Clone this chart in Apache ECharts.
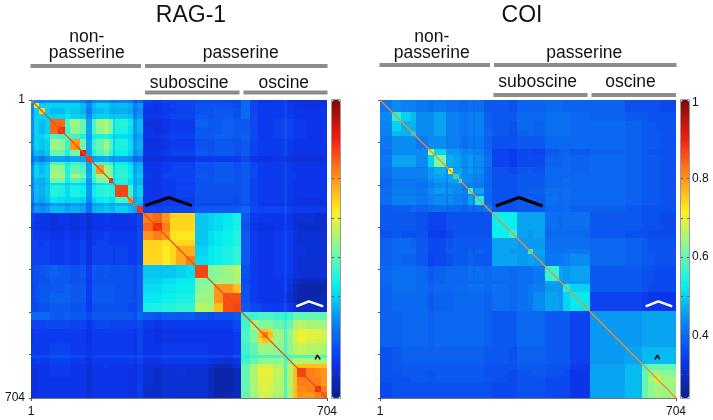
<!DOCTYPE html>
<html>
<head>
<meta charset="utf-8">
<style>html,body{margin:0;padding:0;background:#fff}#c{width:713px;height:420px}</style>
<script src="https://cdn.jsdelivr.net/npm/echarts@6/dist/echarts.min.js"></script>
</head>
<body>
<div id="c"></div>
<script>
// Segment edges (sequence index) of the blocks visible in each matrix
const ragEdges = [1,9,21,34,45,65,82,94,118,132,147,155,175,186,196,201,231,243,252,267,
  291,311,331,346,370,390,422,435,457,481,500,
  520,541,549,563,575,603,610,623,633,655,676,690,704];
const coiEdges = [1,29,51,75,86,116,130,158,162,175,188,196,209,222,227,248,266,
  308,327,352,365,392,427,435,453,499,
  583,624,638,654,666,704];

// Similarity x100 per block pair (lower triangle of the symmetric matrix)
const ragRows = [
[50],
[44,72],
[43,50,74],
[44,50,50,50],
[44,50,48,50,84],
[44,50,48,50,84,89],
[44,50,50,52,58,57,60],
[44,50,49,50,64,63,57,80],
[43,48,47,49,60,60,54,61,91],
[40,44,42,44,46,46,45,46,46,88],
[43,48,47,49,58,58,53,57,55,45,58],
[44,50,48,50,64,63,54,60,58,46,58,80],
[44,50,49,50,65,65,55,65,61,47,58,64,66],
[43,48,47,49,61,61,53,58,56,45,56,62,63,89],
[42,47,46,48,51,51,49,50,49,44,49,51,52,51,53],
[43,48,47,49,55,54,51,54,53,45,53,55,56,55,53,87],
[42,47,46,48,52,51,50,51,50,44,50,52,53,51,51,57,80],
[38,43,42,43,45,45,44,45,44,40,45,46,47,46,46,47,46,50],
[40,45,44,45,48,48,46,47,46,41,47,48,49,48,47,50,48,46,89],
[35,34,33,33,32,33,33,32,33,31,33,33,34,33,33,33,33,33,35,82],
[34,33,33,33,32,32,33,32,33,31,33,33,33,33,33,33,33,33,35,84,89],
[35,34,34,34,33,33,34,33,34,32,34,34,35,34,34,34,34,34,36,80,82,80],
[35,35,34,35,34,34,35,34,35,32,34,35,35,34,34,34,34,34,36,74,74,73,73],
[35,35,35,35,34,34,35,34,35,32,35,35,35,35,34,35,34,34,36,74,74,72,74,78],
[35,35,35,35,34,34,35,34,35,32,35,35,35,35,34,35,34,34,36,74,74,72,74,78,82],
[36,37,37,38,39,38,38,37,38,34,38,37,38,37,37,37,37,36,38,49,49,49,49,50,51,87],
[36,37,37,37,38,38,38,37,37,34,37,37,37,37,37,37,37,36,38,50,50,51,51,52,52,62,62],
[36,37,38,38,38,38,39,38,38,34,38,38,38,38,37,37,37,36,38,51,51,52,52,53,53,63,64,80],
[36,37,38,38,39,39,39,38,38,34,38,38,38,38,37,37,37,36,38,52,52,53,53,54,54,64,64,80,86],
[36,36,37,37,38,38,38,37,37,34,37,37,37,37,37,37,36,36,38,54,54,55,55,56,56,66,65,76,86,87],
[40,40,40,40,38,38,39,38,38,36,38,38,38,38,38,38,38,37,40,38,37,38,38,38,38,37,36,37,37,38,57],
[35,35,35,36,36,36,36,35,35,33,35,36,36,35,35,35,35,35,36,34,33,34,34,34,34,34,34,34,34,36,57,65],
[33,34,34,34,34,34,34,34,34,32,34,34,34,34,34,34,34,33,35,33,32,33,33,33,33,33,33,33,33,35,58,62,74],
[33,34,34,34,34,34,34,34,34,32,34,34,34,34,34,34,34,33,35,33,32,33,33,33,33,33,33,33,33,34,58,62,76,82],
[33,34,34,34,34,34,34,34,34,32,34,34,34,34,34,34,34,33,35,33,32,33,33,33,33,33,33,33,33,34,58,62,74,76,74],
[34,34,34,34,35,35,35,34,34,33,34,34,34,34,34,34,34,33,35,33,33,34,34,34,34,34,33,33,33,34,57,60,64,64,64,63],
[36,36,36,36,37,37,37,36,36,34,36,36,36,36,36,36,36,35,37,35,35,36,36,36,36,36,36,36,35,37,55,57,58,58,58,58,58],
[33,34,34,34,35,35,35,34,34,32,34,34,34,34,34,34,34,33,35,33,33,34,34,34,34,34,33,32,31,33,57,60,63,63,63,63,58,62],
[33,33,33,33,34,34,34,33,33,32,33,33,34,33,33,33,33,32,34,31,31,32,32,32,32,32,30,29,29,31,60,65,68,68,68,66,58,66,74],
[32,32,33,33,34,34,34,33,33,31,33,33,33,33,33,33,32,32,34,31,30,31,31,32,31,31,29,27,27,29,60,66,70,70,70,67,58,66,76,87],
[32,32,33,33,33,33,33,33,33,31,33,33,33,33,33,33,32,32,34,31,30,31,31,31,31,31,29,27,27,29,60,65,69,69,69,66,58,66,76,82,82],
[32,32,33,33,33,33,33,33,33,31,33,33,33,33,33,33,32,32,34,30,30,31,31,31,31,31,29,27,27,29,60,65,68,69,68,66,58,65,76,81,82,89],
[32,32,33,33,33,33,33,33,33,31,33,33,33,33,33,33,32,32,34,30,30,31,31,31,31,31,29,27,28,29,60,64,68,68,68,65,58,65,76,80,80,82,84]
];
const coiRows = [
[42],
[44,55],
[43,50,47],
[43,48,47,50],
[42,44,44,44,42],
[41,44,44,44,44,66],
[42,46,46,46,44,50,62],
[41,43,43,43,42,45,46,45],
[41,43,43,43,43,45,47,44,70],
[41,43,43,43,43,45,46,44,46,52],
[40,42,42,42,42,44,45,43,46,46,56],
[40,42,42,42,41,43,44,42,44,44,44,42],
[41,43,43,43,42,44,45,43,45,44,44,43,56],
[40,42,42,42,41,43,43,42,43,43,43,42,44,42],
[41,43,43,43,42,43,44,42,44,43,43,42,46,43,54],
[38,39,39,40,39,40,41,39,40,40,40,39,40,39,40,42],
[38,38,38,38,37,35,35,37,37,37,37,37,37,37,37,37,53],
[37,38,37,37,37,34,34,36,36,37,37,37,37,37,37,37,53,56],
[39,40,40,39,38,36,36,38,37,38,38,38,38,38,38,38,46,46,45],
[39,40,40,40,38,36,36,38,38,38,38,38,39,38,39,38,46,45,45,56],
[39,40,39,39,38,35,36,37,37,38,38,38,39,38,38,38,46,46,45,46,45],
[40,41,41,41,40,38,39,40,40,40,40,40,41,40,41,40,41,40,41,41,42,56],
[40,41,41,41,40,39,39,40,40,40,40,40,40,40,40,40,40,40,41,41,42,46,44],
[39,41,41,41,40,39,40,40,40,40,41,40,41,41,41,40,41,40,41,42,43,45,45,54],
[39,40,40,40,40,38,39,39,39,40,40,40,40,40,40,39,41,40,41,42,44,46,45,50,52],
[39,39,40,40,40,39,40,40,40,40,40,40,40,40,40,39,38,38,40,40,40,38,38,38,35,45],
[37,38,39,39,39,39,39,39,39,39,39,39,39,39,39,38,38,37,39,39,39,38,38,38,35,45,46],
[37,38,38,38,38,38,38,38,38,38,38,38,38,38,38,37,37,37,38,38,38,37,37,37,34,46,48,58],
[37,37,38,38,38,37,38,38,38,38,38,38,38,38,38,37,37,36,37,37,38,37,37,36,33,46,48,60,63],
[37,37,37,38,38,37,38,38,38,38,38,38,38,38,38,37,37,36,37,37,37,36,36,36,33,46,48,60,65,72],
[36,37,37,37,37,37,37,37,37,37,37,37,37,37,37,37,36,36,37,37,37,36,36,36,33,46,48,60,63,65,64]
];

// Axis and scale text
const firstIndex = 1;
const lastIndex = 704;
const yTicks = [1,101,201,301,401,501,601,704];
const scaleMin = 0.24;
const scaleMax = 1;
const colorbarTicks = [0.9,0.8,0.7,0.6,0.5,0.4,0.3];
const colorbarLabels = [[1,'1'],[0.8,'0.8'],[0.6,'0.6'],[0.4,'0.4']];
const jetColors = ['#0a1f8c','#0c36ee','#0a80f2','#05f0f0','#80f8a0','#fff020','#ff8a18','#f51a10','#7a0a0a'];

// Diagonal and annotation strokes, in matrix index coordinates
const diagonal = [[1,1],[704,704]];
const ragBlackMark = [[272,250],[328,231],[383,250]];
const ragWhiteMark = [[631,488],[661,476],[695,488]];
const ragCaret = [[676,613],[681,603],[688,613]];
const coiBlackMark = [[276,251],[331,231],[387,251]];
const coiWhiteMark = [[632,488],[662,476],[695,488]];
const coiCaret = [[654,613],[660,603],[665,613]];

const FONT = '"Liberation Sans", Arial, sans-serif';

function blocks(edges, rows) {
  const out = [];
  const n = edges.length - 1;
  for (let i = 0; i < n; i++) for (let j = 0; j < n; j++) {
    const v = rows[Math.max(i, j)][Math.min(i, j)] / 100;
    out.push([edges[j], edges[j + 1], edges[i], edges[i + 1], v]);
  }
  return out;
}
function renderBlock(params, api) {
  const a = api.coord([api.value(0), api.value(2)]);
  const b = api.coord([api.value(1), api.value(3)]);
  const x = Math.round(a[0]), y = Math.round(a[1]);
  return { type: 'rect',
    shape: { x: x, y: y, width: Math.round(b[0]) - x, height: Math.round(b[1]) - y },
    style: { fill: api.visual('color') } };
}
function xAxis(g) {
  return { type: 'value', gridIndex: g, min: firstIndex, max: lastIndex, splitLine: { show: false },
    axisLine: { show: true, onZero: false, lineStyle: { color: '#777', width: 1 } },
    axisTick: { show: true, length: 3, lineStyle: { color: '#555' }, customValues: [firstIndex, lastIndex] },
    axisLabel: { customValues: [firstIndex, lastIndex], color: '#111', fontFamily: FONT, fontSize: 12, margin: 8 } };
}
function yAxis(g, showLabels) {
  return { type: 'value', gridIndex: g, inverse: true, min: firstIndex, max: lastIndex, splitLine: { show: false },
    axisLine: { show: true, onZero: false, lineStyle: { color: '#777', width: 1 } },
    axisTick: { show: true, length: 2, lineStyle: { color: '#555' }, customValues: yTicks },
    axisLabel: { show: showLabels, customValues: [firstIndex, lastIndex], color: '#111', fontFamily: FONT, fontSize: 12, margin: 6 } };
}
function stroke(g, data, color, width) {
  return { type: 'line', xAxisIndex: g, yAxisIndex: g, data: data, symbol: 'none', silent: true, z: 5,
    clip: false, animation: false, lineStyle: { color: color, width: width } };
}
function heat(g, edges, rows) {
  return { type: 'custom', xAxisIndex: g, yAxisIndex: g, data: blocks(edges, rows), renderItem: renderBlock,
    encode: { x: [0, 1], y: [2, 3] }, silent: true, animation: false, z: 1 };
}
function label(x, y, t, size, align) {
  return { type: 'text', z: 20, silent: true, x: x, y: y, style: { text: t, fill: '#111', font: size + 'px ' + FONT,
    textAlign: align || 'center', textVerticalAlign: 'middle' } };
}
function bar(x0, x1, y0, y1) {
  return { type: 'rect', z: 20, silent: true, shape: { x: x0, y: y0, width: x1 - x0, height: y1 - y0 }, style: { fill: '#8c8c8c' } };
}
function colorbarFurniture(left) {
  const top = 100, h = 298, w = 8, els = [];
  const yOf = v => top + (scaleMax - v) / (scaleMax - scaleMin) * h;
  els.push({ type: 'rect', z: 20, silent: true, shape: { x: left - 0.5, y: top - 0.5, width: w + 1, height: h + 1 },
    style: { fill: 'none', stroke: '#999', lineWidth: 1 } });
  colorbarTicks.forEach(v => {
    const y = Math.round(yOf(v)) + 0.5;
    els.push({ type: 'line', z: 21, silent: true, shape: { x1: left, y1: y, x2: left + 2, y2: y }, style: { stroke: '#555', lineWidth: 1 } });
    els.push({ type: 'line', z: 21, silent: true, shape: { x1: left + w - 2, y1: y, x2: left + w, y2: y }, style: { stroke: '#555', lineWidth: 1 } });
  });
  return els;
}
const graphics = [
  label(191, 15.5, 'RAG-1', 23), label(522, 15.5, 'COI', 23),
  label(86.7, 37, 'non-', 17.5), label(86.7, 53.5, 'passerine', 17.5),
  label(240.8, 53.5, 'passerine', 17.5), label(189.2, 83, 'suboscine', 17.5), label(283.8, 83, 'oscine', 17.5),
  label(431.7, 37, 'non-', 17.5), label(431.7, 53.5, 'passerine', 17.5),
  label(584.3, 53.5, 'passerine', 17.5), label(537.7, 82.5, 'suboscine', 17.5), label(630.5, 82.5, 'oscine', 17.5),
  bar(30.5, 141, 64, 68), bar(145, 327.5, 64, 68), bar(145, 239.5, 90.5, 94.5), bar(243.5, 327.5, 90.5, 94.5),
  bar(379.5, 490, 63, 67), bar(494, 676.5, 63, 67), bar(493.5, 587.5, 93, 97), bar(591.5, 676, 93, 97),
  ...colorbarFurniture(332), ...colorbarFurniture(681),
  ...colorbarLabels.map(p => label(692, p[0] === 1 ? 103 : 100 + (scaleMax - p[0]) / (scaleMax - scaleMin) * 298, p[1], 12, 'left'))
];
const vm = (left, si) => ({ type: 'continuous', seriesIndex: si, dimension: 4, min: scaleMin, max: scaleMax, left: left, top: 100,
  itemWidth: 8, itemHeight: 298, padding: 0, calculable: false, hoverLink: false, showLabel: false, text: null,
  inRange: { color: jetColors } });

const chart = echarts.init(document.getElementById('c'), null, { renderer: 'canvas' });
chart.setOption({
  animation: false,
  backgroundColor: '#fff',
  grid: [{ left: 31, top: 100, width: 296, height: 298 }, { left: 380, top: 100, width: 296, height: 298 }],
  xAxis: [xAxis(0), xAxis(1)],
  yAxis: [yAxis(0, true), yAxis(1, false)],
  visualMap: [vm(332, 0), vm(681, 1)],
  series: [
    heat(0, ragEdges, ragRows), heat(1, coiEdges, coiRows),
    stroke(0, diagonal, '#e0521c', 1.2), stroke(1, diagonal, '#ee8f28', 1.2),
    stroke(0, ragBlackMark, '#000', 3), stroke(0, ragWhiteMark, '#fff', 2.5), stroke(0, ragCaret, '#000', 1.5),
    stroke(1, coiBlackMark, '#000', 3), stroke(1, coiWhiteMark, '#fff', 2.5), stroke(1, coiCaret, '#000', 1.5)
  ],
  graphic: graphics
});
</script>
</body>
</html>
